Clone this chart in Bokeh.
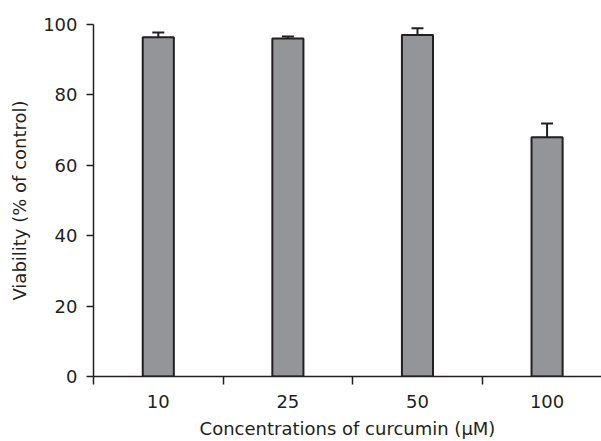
from bokeh.plotting import figure
from bokeh.models import Range1d, FixedTicker, Whisker, TeeHead, ColumnDataSource
from bokeh.embed import file_html
from bokeh.resources import INLINE

categories = ["10", "25", "50", "100"]
viability = [96.4, 96.0, 97.0, 68.0]
errors = [1.3, 0.6, 1.9, 3.9]
y_ticks = [0, 20, 40, 60, 80, 100]

xs = [i + 1 for i in range(len(categories))]
src = ColumnDataSource(data=dict(
    x=xs, top=viability,
    upper=[v + e for v, e in zip(viability, errors)],
))

FONT = "DejaVu Sans"
DARK = "#231f20"

p = figure(width=601, height=441, output_backend="svg", toolbar_location=None,
           x_range=Range1d(0.5, 4.42), y_range=Range1d(0, 100),
           min_border_left=93, min_border_top=24, min_border_right=0, min_border_bottom=65)
p.outline_line_color = None
p.xgrid.grid_line_color = None
p.ygrid.grid_line_color = None

p.vbar(x="x", top="top", bottom=0, width=0.24, source=src,
       fill_color="#939598", line_color=DARK, line_width=2)

w = Whisker(base="x", lower="top", upper="upper", source=src,
            line_color=DARK, line_width=2, lower_head=None,
            upper_head=TeeHead(size=12, line_color=DARK, line_width=2))
p.add_layout(w)

# x axis
p.xaxis.ticker = FixedTicker(ticks=xs, minor_ticks=[x - 0.5 for x in xs] + [4.5])
p.xaxis.major_label_overrides = {x: c for x, c in zip(xs, categories)}
p.xaxis.major_tick_out = 0
p.xaxis.major_tick_in = 0
p.xaxis.minor_tick_out = 8
p.xaxis.minor_tick_in = 0
p.xaxis.minor_tick_line_color = DARK
p.xaxis.minor_tick_line_width = 1.5
p.xaxis.major_label_standoff = 10
p.xaxis.axis_label = "Concentrations of curcumin (\u03bcM)"
p.xaxis.axis_label_standoff = 7

# y axis
p.yaxis.ticker = FixedTicker(ticks=y_ticks, minor_ticks=[])
p.yaxis.major_tick_out = 7
p.yaxis.major_tick_in = 0
p.yaxis.major_label_standoff = 9
p.yaxis.axis_label = "Viability (% of control)"
p.yaxis.axis_label_standoff = 10

for ax in (p.xaxis, p.yaxis):
    ax.axis_line_color = DARK
    ax.axis_line_width = 1.5
    ax.major_tick_line_color = DARK
    ax.major_tick_line_width = 1.5
    ax.major_label_text_font = FONT
    ax.major_label_text_font_size = "18px"
    ax.major_label_text_color = DARK
    ax.axis_label_text_font = FONT
    ax.axis_label_text_font_size = "18px"
    ax.axis_label_text_font_style = "normal"
    ax.axis_label_text_color = DARK

open("out.html", "w").write(file_html(p, INLINE))
